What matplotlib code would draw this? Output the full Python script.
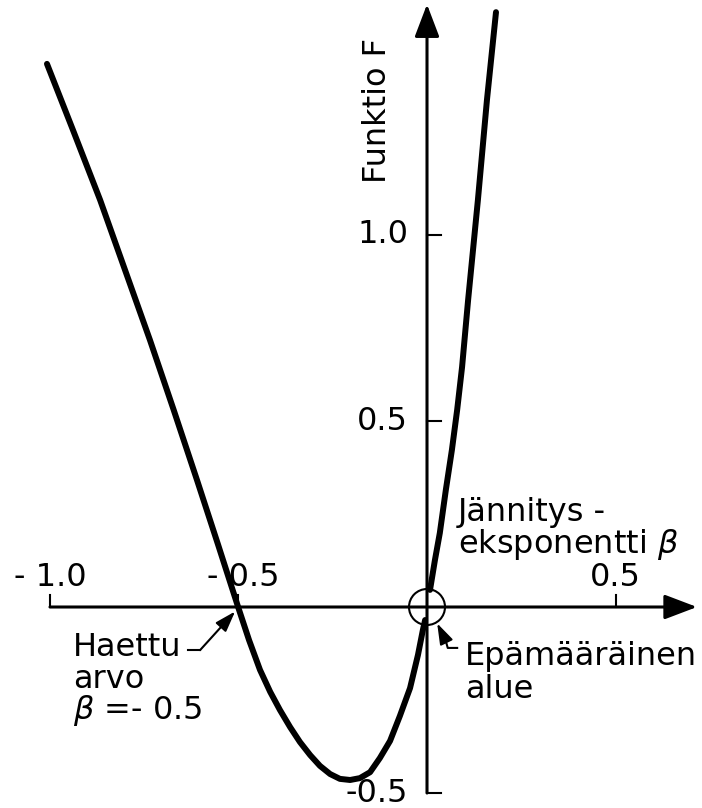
import matplotlib
matplotlib.use("Agg")
import matplotlib.pyplot as plt
from matplotlib.patches import Ellipse

plt.rcParams['font.family'] = 'DejaVu Sans'
plt.rcParams['mathtext.fontset'] = 'dejavusans'

# funktio F jännityseksponentin beta funktiona
# vasen haara (nollakohta -0.5 ja minimi) ja oikea haara origon yläpuolella
beta_vasen = [-1.008, -0.939, -0.867, -0.801, -0.735, -0.672, -0.610, -0.554, -0.501,
              -0.472, -0.443, -0.416, -0.390, -0.363, -0.337, -0.310, -0.284,
              -0.257, -0.231, -0.204, -0.178, -0.151, -0.125, -0.098, -0.072,
              -0.045, -0.024, -0.011, -0.005]
F_vasen = [1.460, 1.282, 1.094, 0.906, 0.718, 0.530, 0.341, 0.167, 0.0,
           -0.089, -0.169, -0.228, -0.277, -0.323, -0.363, -0.398, -0.427,
           -0.449, -0.462, -0.465, -0.460, -0.444, -0.406, -0.360, -0.293,
           -0.218, -0.129, -0.062, -0.035]

beta_oikea = [0.008, 0.021, 0.034, 0.050, 0.066, 0.080, 0.093, 0.109, 0.135, 0.159, 0.183]
F_oikea = [0.046, 0.126, 0.199, 0.315, 0.422, 0.530, 0.645, 0.825, 1.094, 1.363, 1.599]

x_ticks = [-1.0, -0.5, 0.5]
x_tick_labels = ['- 1.0', '- 0.5', '0.5']
y_ticks = [1.0, 0.5, -0.5]
y_tick_labels = ['1.0', '0.5', '-0.5']

fig = plt.figure(figsize=(7.02, 8.08), dpi=100)
ax = fig.add_axes([0, 0, 1, 1])
ax.set_xlim(-1.1326, 0.7294)
ax.set_ylim(-0.5403, 1.6317)
ax.axis('off')

fs = 23

# akselit nuolineen
ax.annotate('', xy=(0.716, 0), xytext=(-1.0, 0),
            arrowprops=dict(arrowstyle='-|>,head_length=1.0,head_width=0.38',
                            mutation_scale=20, lw=2.2, color='k',
                            shrinkA=0, shrinkB=0))
ax.annotate('', xy=(0, 1.62), xytext=(0, -0.5),
            arrowprops=dict(arrowstyle='-|>,head_length=1.0,head_width=0.38',
                            mutation_scale=20, lw=2.2, color='k',
                            shrinkA=0, shrinkB=0))

# jakoviivat
for t, lab in zip(x_ticks, x_tick_labels):
    ax.plot([t, t], [0, 0.032], color='k', lw=1.5)
    ax.text(t + (0.012 if t == -0.5 else 0), 0.078, lab, fontsize=fs,
            ha='center', va='center')
for t, lab in zip(y_ticks, y_tick_labels):
    ax.plot([0, 0.036], [t, t], color='k', lw=1.5)
    ax.text(-0.05, t, lab, fontsize=fs, ha='right', va='center')

ax.text(-0.130, 1.336, 'Funktio F', fontsize=fs, rotation=90,
        ha='center', va='center')

# käyrä
ax.plot(beta_vasen, F_vasen, color='k', lw=4.3, solid_capstyle='round',
        solid_joinstyle='round')
ax.plot(beta_oikea, F_oikea, color='k', lw=4.3, solid_capstyle='round',
        solid_joinstyle='round')

# epämääräinen alue origossa
ax.add_patch(Ellipse((0, 0), 36 / 377, 36 / 372, fill=False, lw=1.5, color='k'))

ax.text(0.082, 0.253, 'Jännitys -', fontsize=fs, ha='left', va='center')
ax.text(0.082, 0.167, r'eksponentti $\beta$', fontsize=fs, ha='left', va='center')

ax.text(0.101, -0.134, 'Epämääräinen', fontsize=fs, ha='left', va='center')
ax.text(0.101, -0.223, 'alue', fontsize=fs, ha='left', va='center')
ax.plot([0.080, 0.055, 0.050], [-0.110, -0.110, -0.092], color='k', lw=1.5)
ax.annotate('', xy=(0.027, -0.044), xytext=(0.050, -0.092),
            arrowprops=dict(arrowstyle='-|>,head_length=0.9,head_width=0.3',
                            mutation_scale=14, lw=1.5, color='k',
                            shrinkA=0, shrinkB=0))

ax.text(-0.939, -0.110, 'Haettu', fontsize=fs, ha='left', va='center')
ax.text(-0.939, -0.196, 'arvo', fontsize=fs, ha='left', va='center')
ax.text(-0.939, -0.277, r'$\beta$ =- 0.5', fontsize=fs, ha='left', va='center')
ax.plot([-0.634, -0.602], [-0.116, -0.116], color='k', lw=1.5)
ax.annotate('', xy=(-0.509, -0.012), xytext=(-0.602, -0.116),
            arrowprops=dict(arrowstyle='-|>,head_length=0.9,head_width=0.3',
                            mutation_scale=14, lw=1.5, color='k',
                            shrinkA=0, shrinkB=0))

fig.savefig('out.png', dpi=100)
